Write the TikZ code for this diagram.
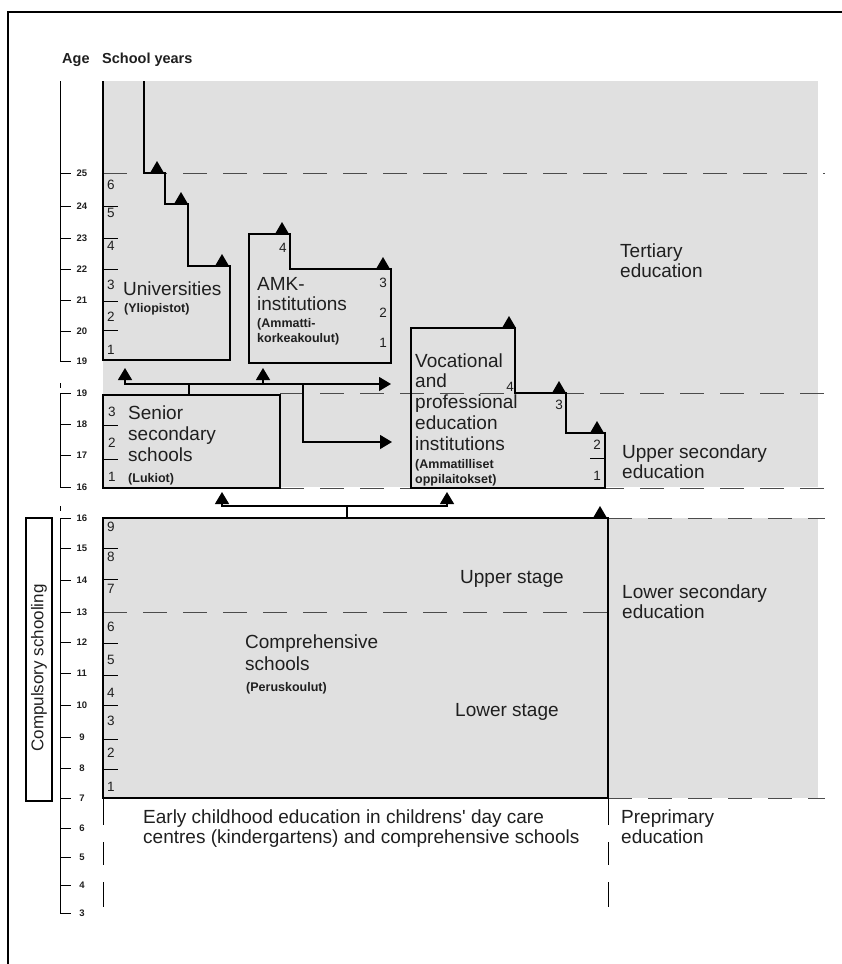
\documentclass[tikz,border=0pt]{standalone}
\usepackage{fontspec}
\setmainfont{Liberation Sans}
\usepackage{tikz}
\usetikzlibrary{arrows.meta}
\tikzset{
  box/.style={line width=2.4pt},
  link/.style={line width=1.2pt},
  lnk/.style={link,-{Triangle[length=12pt,width=14pt]}},
  lvl/.style={line width=1pt,black!70,dash pattern=on 24pt off 16pt},
  big/.style={anchor=base west,inner sep=0pt,font=\fontsize{19}{21}\selectfont},
  paren/.style={anchor=base west,inner sep=0pt,font=\bfseries\fontsize{12.5}{14}\selectfont},
  yr/.style={inner sep=0pt,font=\fontsize{13.5}{15}\selectfont},
  agenum/.style={inner sep=0pt,font=\bfseries\fontsize{9.5}{11}\selectfont},
  tk/.style={line width=1pt}
}
\newcommand{\steptri}[2]{\fill (#1-7,#2) -- (#1+7,#2) -- (#1,#2-12) -- cycle;}

\begin{document}
\begin{tikzpicture}[x=1pt,y=-1pt,text=black!88]
\useasboundingbox (0,0) rectangle (842,964);
% frame and shading
\draw[line width=1.6pt] (8,964) -- (8,12) -- (842,12);
\fill[black!12] (103,81) rectangle (818,487);
\fill[black!12] (103,518) rectangle (818,798);
% level lines
\draw[lvl] (103,173) -- (825,173);
\draw[lvl] (280,393) -- (825,393);
\draw[lvl] (280,488) -- (825,488);
\draw[lvl] (608,518) -- (825,518);
\draw[lvl] (103,612) -- (608,612);
\draw[lvl] (608,798) -- (825,798);
% header
\node[anchor=base west,inner sep=0pt,font=\bfseries\fontsize{14.5}{16}\selectfont] (agehead) at (62,63) {Age};
\node[anchor=base west,inner sep=0pt,font=\bfseries\fontsize{14.5}{16}\selectfont] (yearhead) at (102,63) {School years};
% age axis
\draw[tk] (60,81) -- (60,361);
\foreach \a/\y in {25/173,24/206,23/238,22/269,21/300,20/331,19/361}{
  \draw[tk] (60,\y) -- (71,\y);
  \node[agenum] (ta\a) at (82,\y) {\a};
}
\draw[tk] (60,383) -- (60,388);
\draw[tk] (60,393) -- (60,487);
\foreach \a/\y in {19/393,18/424,17/455,16/487}{
  \draw[tk] (60,\y) -- (71,\y);
  \node[agenum] (ua\a) at (82,\y) {\a};
}
\draw[tk] (60,506) -- (60,511);
\draw[tk] (60,518) -- (60,913);
\foreach \a/\y in {16/518,15/548,14/580,13/612,12/642,11/673,10/705,9/737,8/768,7/798,6/828,5/857,4/885,3/913}{
  \draw[tk] (60,\y) -- (71,\y);
  \node[agenum] (la\a) at (82,\y) {\a};
}
% compulsory schooling
\draw[line width=1.2pt] (26,518) rectangle (52,801);
\node[rotate=90,inner sep=0pt,font=\fontsize{17}{19}\selectfont] (compuls) at (39,668) {Compulsory schooling};

% universities
\draw[box] (103,81) -- (103,360) -- (230,360) -- (230,266) -- (188,266) -- (188,204)
  -- (165,204) -- (165,173) -- (144,173) -- (144,81);
\steptri{157}{173} \steptri{181}{204} \steptri{222}{266}
\foreach \y in {206,238,269,301,330} \draw[tk] (103,\y) -- (118,\y);
\foreach \n/\y in {6/185,5/213,4/246,3/285,2/317,1/350} \node[yr] (uni\n) at (111,\y) {\n};
\node[big] (uni) at (123,295) {Universities};
\node[paren] (unifi) at (124,312) {(Yliopistot)};

% AMK-institutions
\draw[box] (249,234) -- (290,234) -- (290,269) -- (391,269) -- (391,363) -- (249,363) -- cycle;
\steptri{282}{234} \steptri{383}{269}
\node[yr] (amk4) at (283,248) {4};
\node[yr] (amk3) at (383,283) {3};
\node[yr] (amk2) at (383,313) {2};
\node[yr] (amk1) at (383,343) {1};
\node[big] (amk) at (257,290) {AMK-};
\node[big] (amkb) at (257,310) {institutions};
\node[paren] (amkfi) at (257,327) {(Ammatti-};
\node[paren] (amkfib) at (257,342) {korkeakoulut)};

% vocational institutions
\draw[box] (411,328) -- (515,328) -- (515,393) -- (566,393) -- (566,433) -- (605,433)
  -- (605,488) -- (411,488) -- cycle;
\steptri{509}{328} \steptri{559}{393} \steptri{597}{433}
\draw[tk] (590,458) -- (605,458);
\node[yr] (voc4) at (510,387) {4};
\node[yr] (voc3) at (559,405) {3};
\node[yr] (voc2) at (597,445) {2};
\node[yr] (voc1) at (597,476) {1};
\foreach \t [count=\i] in {Vocational,and,professional,education,institutions}
  \node[big] (voc\i) at (415,346.5+20.7*\i) {\t};
\node[paren] (vocfi) at (415,468) {(Ammatilliset};
\node[paren] (vocfib) at (415,483) {oppilaitokset)};

% senior secondary schools
\draw[box] (103,395) rectangle (280,488);
\foreach \y in {425,459} \draw[tk] (103,\y) -- (118,\y);
\foreach \n/\y in {3/412,2/443,1/477} \node[yr] (sen\n) at (112,\y) {\n};
\foreach \t [count=\i] in {Senior,secondary,schools}
  \node[big] (sen\i) at (128,398+21*\i) {\t};
\node[paren] (senfi) at (128,482) {(Lukiot)};

% comprehensive schools
\draw[box] (103,518) rectangle (608,798);
\steptri{600}{518}
\foreach \y in {548,579,643,675,705,739,769} \draw[tk] (103,\y) -- (118,\y);
\foreach \n/\y in {9/527,8/557,7/589,6/627,5/660,4/693,3/721,2/753,1/787} \node[yr] (comp\n) at (111,\y) {\n};
\node[big] (comp) at (245,648) {Comprehensive};
\node[big] (compb) at (245,670) {schools};
\node[paren] (compfi) at (246,691) {(Peruskoulut)};
\node[big] (upst) at (460,583) {Upper stage};
\node[big] (lost) at (455,716) {Lower stage};
\foreach \x in {103,608}{
  \draw[tk] (\x,798) -- (\x,825);
  \draw[tk] (\x,842) -- (\x,865);
  \draw[tk] (\x,882) -- (\x,907);
}

% levels
\node[big] (tert) at (620,257) {Tertiary};
\node[big] (tertb) at (620,277) {education};
\node[big] (upsec) at (622,458) {Upper secondary};
\node[big] (upsecb) at (622,478) {education};
\node[big] (losec) at (622,598) {Lower secondary};
\node[big] (losecb) at (622,618) {education};
\node[big] (prepr) at (621,823) {Preprimary};
\node[big] (preprb) at (621,843) {education};
\node[big] (early) at (143,823) {Early childhood education in childrens\textquotesingle\ day care};
\node[big] (earlyb) at (143,843) {centres (kindergartens) and comprehensive schools};

% paths between schools
\coordinate (sentop) at (189,395);
\coordinate (split) at (189,384);
\coordinate (fork) at (303,384);
\coordinate (uniin) at (125,368);
\coordinate (amkin) at (263,368);
\coordinate (vocin) at (391,384);
\coordinate (vocinb) at (392,442);
\draw[link] (sentop) -- (split);
\draw[lnk] (split) -| (uniin);
\draw[lnk] (split) -- (vocin);
\draw[lnk] (split -| amkin) -- (amkin);
\draw[lnk] (fork) |- (vocinb);
\coordinate (comptop) at (347,518);
\coordinate (splitb) at (347,506);
\coordinate (senin) at (222,492);
\coordinate (vocinc) at (447,492);
\draw[link] (comptop) -- (splitb);
\draw[lnk] (splitb) -| (senin);
\draw[lnk] (splitb) -| (vocinc);
\end{tikzpicture}
\end{document}
